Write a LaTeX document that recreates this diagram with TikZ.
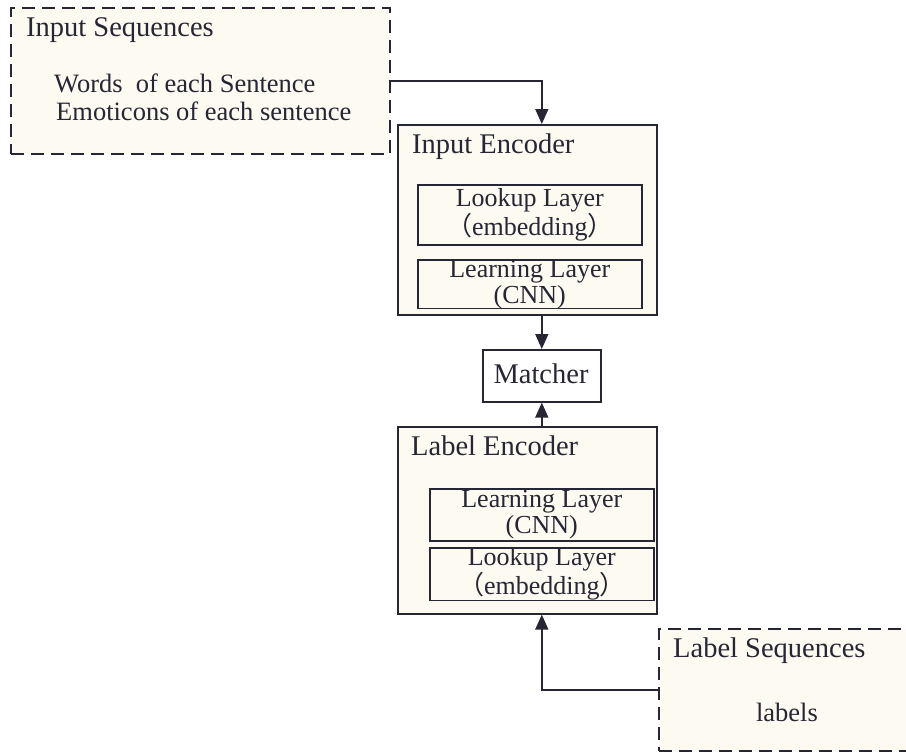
\documentclass[tikz,border=0pt]{standalone}
\usepackage{fontspec}
\setmainfont{Liberation Serif}
\newfontfamily\cjk{Noto Sans CJK SC}
\usetikzlibrary{arrows.meta}
\definecolor{paper}{RGB}{253,250,241}
\definecolor{ink}{RGB}{38,38,52}
\newcommand{\fwl}{{\cjk （}}
\newcommand{\fwr}{{\cjk ）}}
\begin{document}
	\begin{tikzpicture}[x=1pt,y=-1pt,
		every node/.style={inner sep=0pt, text=ink},
		seqbox/.style={draw=ink, line width=1.6pt, dash pattern=on 13pt off 7pt, fill=paper, anchor=north west},
		encbox/.style={draw=ink, line width=1.6pt, fill=paper, anchor=north west},
		layerbox/.style={draw=ink, line width=1.6pt, fill=paper, anchor=north west, align=center, font=\fontsize{26}{26}\selectfont},
		title/.style={anchor=base west, font=\fontsize{28.5}{30}\selectfont},
		body/.style={anchor=base west, font=\fontsize{26.5}{30}\selectfont},
		link/.style={draw=ink, line width=1.6pt, -{Triangle[length=15pt,width=13pt]}}]
		\clip ( 0, 0 ) rectangle ( 906, 753 );

		% input sequences
		\node [seqbox, minimum width=379pt, minimum height=146pt] (inseq) at ( 10, 7 ) {};
		\node [title] (inseqtitle) at ( 26, 36 ) {Input Sequences};
		\node [body] (words) at ( 54, 92 ) {Words\ \ of each Sentence};
		\node [body] (emoticons) at ( 56, 120 ) {Emoticons of each sentence};

		% input encoder
		\node [encbox, minimum width=259pt, minimum height=190pt] (inenc) at ( 397, 124 ) {};
		\node [title] (inenctitle) at ( 412, 153 ) {Input Encoder};
		\node [layerbox, minimum width=224pt, minimum height=60pt] (inlookup) at ( 417, 184 ) {Lookup Layer\\\fwl embedding\fwr};
		\node [layerbox, minimum width=224pt, minimum height=47pt] (inlearn) at ( 417, 259 ) {Learning Layer\\(CNN)};

		% matcher
		\node [encbox, fill=white, minimum width=118pt, minimum height=52pt] (matcher) at ( 482, 349 ) {};
		\node [title, anchor=base] (matchertext) at ( 541, 383 ) {Matcher};

		% label encoder
		\node [encbox, minimum width=259pt, minimum height=187pt] (labenc) at ( 397, 426 ) {};
		\node [title] (labenctitle) at ( 411, 455 ) {Label Encoder};
		\node [layerbox, minimum width=224pt, minimum height=52pt] (lablearn) at ( 429, 488 ) {Learning Layer\\(CNN)};
		\node [layerbox, minimum width=224pt, minimum height=52pt] (lablookup) at ( 429, 547 ) {Lookup Layer\\\fwl embedding\fwr};

		% label sequences
		\node [seqbox, minimum width=270pt, minimum height=122pt] (labseq) at ( 658, 628 ) {};
		\node [title] (labseqtitle) at ( 673, 657 ) {Label Sequences};
		\node [body, anchor=base] (labels) at ( 787, 721 ) {labels};

		% connectors
		\draw [link] (inseq.east) -| (matcher.north |- inenc.north);
		\draw [link] (matcher.north |- inenc.south) -- (matcher.north);
		\draw [link] (matcher.south |- labenc.north) -- (matcher.south);
		\draw [link] (labseq.west) -| (matcher.south |- labenc.south);
	\end{tikzpicture}
\end{document}
